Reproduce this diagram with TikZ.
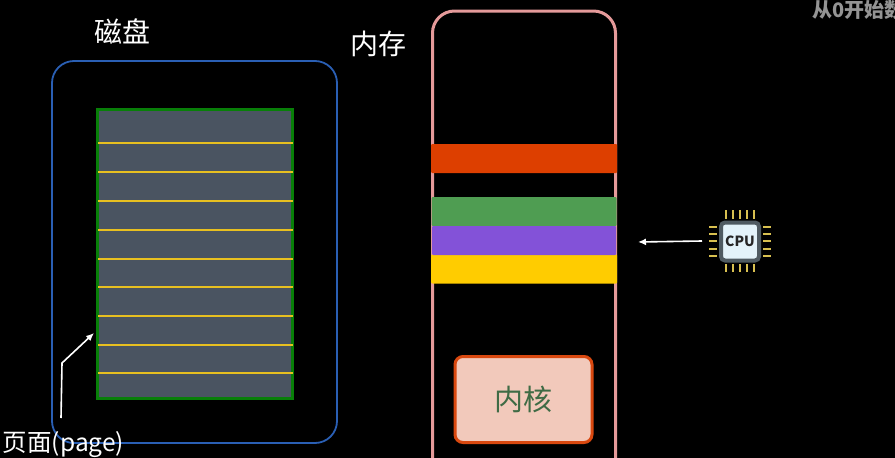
\documentclass[tikz,border=0pt]{standalone}
\usepackage{fontspec}
\setmainfont{Noto Sans CJK SC}
\usepackage{tikz}
\usetikzlibrary{arrows.meta}
\definecolor{diskblue}{HTML}{2A5FB4}
\definecolor{memrose}{HTML}{E59A9A}
\definecolor{pagegray}{HTML}{4A5461}
\definecolor{pagegreen}{HTML}{087F08}
\definecolor{pageline}{HTML}{E8C020}
\definecolor{barred}{HTML}{DD3F00}
\definecolor{bargreen}{HTML}{4F9D52}
\definecolor{barpurple}{HTML}{8352D8}
\definecolor{baryellow}{HTML}{FFCC00}
\definecolor{kernfill}{HTML}{F2C9BB}
\definecolor{kernedge}{HTML}{D9480F}
\definecolor{kerntext}{HTML}{3F6B45}
\definecolor{chipgray}{HTML}{4F5B62}
\definecolor{chipface}{HTML}{E3F3FA}
\definecolor{chippin}{HTML}{D8C050}
\def\fsize#1{\fontsize{#1}{#1}\selectfont}
\def\dpin{\draw[chippin,line width=1.8pt]}
\tikzset{
    box/.style={draw,rounded corners=#1,inner sep=0pt},
    bar/.style={fill=#1,rounded corners=1pt,inner sep=0pt,minimum width=186pt,minimum height=29pt},
    lbl/.style={text=white,inner sep=0pt},
    pointer/.style={draw=white,line width=1.6pt,-{Latex[length=8pt,width=7pt]}},
}

\begin{document}
\begin{tikzpicture}[x=1pt,y=-1pt]
    \useasboundingbox[fill=black] (0,0) rectangle (895,458);
    % disk
    \node[box=22pt,diskblue,line width=1.8pt,minimum width=285pt,minimum height=382pt] (disk) at (194.5,252) {};
    \node[draw=pagegreen,fill=pagegray,line width=3pt,inner sep=0pt,minimum width=195pt,minimum height=289pt] (pages) at (195,254) {};
    \foreach \y in {143,172,201,230,259,287,316,345,373}
        \draw[pageline,line width=1.5pt] (98,\y) -- (293,\y);
    \node[lbl,font=\fsize{28}] (disklabel) at (122,31) {磁盘};
    \node[lbl,font=\fsize{24.5}] (pagelabel) at (63.5,445) {页面(page)};
    \coordinate (pagefrom) at (61,418);
    \coordinate (pagebend) at (62,363);
    \coordinate (pageto) at (94,333);
    \draw[pointer] (pagefrom) -- (pagebend) -- (pageto);
    % memory
    \node[box=22pt,memrose,line width=3pt,minimum width=183pt,minimum height=520pt] (mem) at (524,271) {};
    \node[lbl,font=\fsize{28}] (memlabel) at (378,44) {内存};
    \node[bar=barred] (redbar) at (524,158.5) {};
    \node[bar=bargreen,minimum width=185pt] (greenbar) at (524,211.5) {};
    \node[bar=baryellow] (yellowbar) at (524,269) {};
    \node[bar=barpurple,minimum width=184pt] (purplebar) at (524,240.5) {};
    \node[box=8pt,draw=kernedge,fill=kernfill,line width=3pt,text=kerntext,font=\fsize{29},minimum width=137pt,minimum height=86pt] (kernel) at (523.5,399.5) {\raisebox{-2pt}{内核}};
    % cpu
    \foreach \p in {726,733,740,747,754} {
        \dpin (\p,210) -- (\p,219);
        \dpin (\p,264) -- (\p,272);
    }
    \foreach \p in {227,234,241,249,256} {
        \dpin (709,\p) -- (717,\p);
        \dpin (763,\p) -- (771,\p);
    }
    \node[box=4pt,draw=chipgray,fill=chipface,line width=4pt,text=black!85,font=\bfseries\fsize{14},minimum width=38pt,minimum height=38pt] (cpu) at (740,241.5) {CPU};
    \coordinate (cpufrom) at (702,241);
    \coordinate (cputo) at (638,242);
    \draw[pointer] (cpufrom) -- (cputo);
    % corner
    \node[text=black!42!white,inner sep=0pt,anchor=west,font=\bfseries\fsize{20}] (corner) at (812,10) {从0开始数};
\end{tikzpicture}
\end{document}
